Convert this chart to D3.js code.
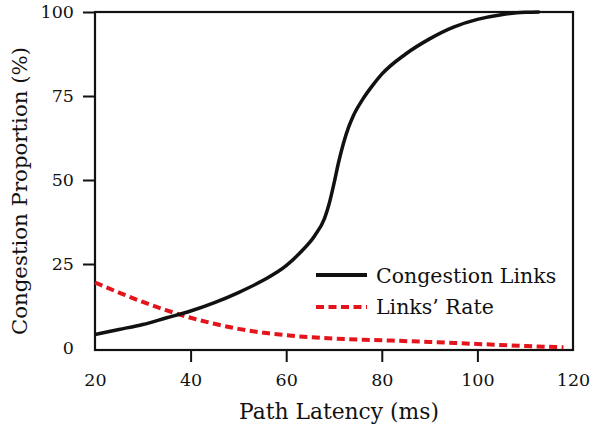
<!DOCTYPE html>
<html>
<head>
<meta charset="utf-8">
<script src="https://cdn.jsdelivr.net/npm/d3@7"></script>
<style>
  body { margin: 0; background: #fff; }
  text { font-family: "DejaVu Serif", "Liberation Serif", serif; fill: #111; }
</style>
</head>
<body>
<div id="chart"></div>
<script>
// path latency (ms)
const latency = [20, 25, 30, 35, 40, 45, 50, 55, 60, 63, 66, 68, 69, 70, 71, 72, 73, 74, 76, 78, 80, 85, 90, 95, 100, 105, 110, 113];
// congestion links (%)
const congestion = [4, 5.5, 7, 9, 11, 13.5, 16.5, 20, 24.5, 28.5, 33.5, 38.5, 43, 49, 55.5, 61, 65.5, 69, 74, 78, 81.5, 87.5, 92, 95.5, 97.8, 99.2, 99.9, 100];
// links' rate
const rateLatency = [20, 25, 30, 35, 40, 45, 50, 55, 60, 65, 70, 80, 90, 100, 110, 118];
const rate = [19.5, 16.5, 13.7, 11.2, 9, 7.2, 5.7, 4.6, 3.8, 3.2, 2.8, 2.3, 1.8, 1.2, 0.6, 0.2];

const xTicks = [20, 40, 60, 80, 100, 120];
const yTicks = [0, 25, 50, 75, 100];

const width = 592, height = 430;
const margin = { top: 12, left: 95, right: 19, bottom: 80 };
const innerW = width - margin.left - margin.right;
const innerH = height - margin.top - margin.bottom;

const svg = d3.select('#chart').append('svg')
    .attr('width', width)
    .attr('height', height);

const x = d3.scaleLinear().domain([20, 120]).range([margin.left, margin.left + innerW]);
const y = d3.scaleLinear().domain([0, 100]).range([margin.top + innerH - 2, margin.top]);

// axes
const xAxis = svg.append('g')
    .attr('transform', `translate(0, ${margin.top + innerH})`)
    .call(d3.axisBottom(x).tickValues(xTicks).tickSize(12).tickPadding(12).tickSizeOuter(0));
const yAxis = svg.append('g')
    .attr('transform', `translate(${margin.left}, 0)`)
    .call(d3.axisLeft(y).tickValues(yTicks).tickSize(12).tickPadding(9).tickSizeOuter(0));

[xAxis, yAxis].forEach((g) => {
    g.select('.domain').remove();
    g.selectAll('line').attr('stroke', '#111').attr('stroke-width', 2);
    g.selectAll('text').attr('font-size', 17.5).style('font-family', '"DejaVu Serif", serif').attr('fill', '#111');
});
// hide end ticks covered by the frame
xAxis.selectAll('.tick').filter((d) => d === 20 || d === 120).select('line').remove();
yAxis.selectAll('.tick').filter((d) => d === 0).select('line').remove();

// frame
svg.append('rect')
    .attr('x', margin.left)
    .attr('y', margin.top)
    .attr('width', innerW)
    .attr('height', innerH)
    .attr('fill', 'none')
    .attr('stroke', '#111')
    .attr('stroke-width', 2.2);

const line = d3.line().x((d) => x(d[0])).y((d) => y(d[1])).curve(d3.curveMonotoneX);

svg.append('path')
    .datum(rateLatency.map((v, i) => [v, rate[i]]))
    .attr('d', line)
    .attr('fill', 'none')
    .attr('stroke', '#e3141b')
    .attr('stroke-width', 4)
    .attr('stroke-dasharray', '8,4.5');

svg.append('path')
    .datum(latency.map((v, i) => [v, congestion[i]]))
    .attr('d', line)
    .attr('fill', 'none')
    .attr('stroke', '#111')
    .attr('stroke-width', 3.5);

// legend
const legend = svg.append('g').attr('transform', 'translate(316, 275)');
legend.append('line').attr('x1', 0).attr('x2', 51).attr('y1', 0).attr('y2', 0)
    .attr('stroke', '#111').attr('stroke-width', 4);
legend.append('line').attr('x1', 0).attr('x2', 51).attr('y1', 32).attr('y2', 32)
    .attr('stroke', '#e3141b').attr('stroke-width', 4).attr('stroke-dasharray', '8,4.5');
legend.append('text').attr('x', 60).attr('y', 8).attr('font-size', 20.5).text('Congestion Links');
legend.append('text').attr('x', 60).attr('y', 39).attr('font-size', 20.5).text('Links\u2019 Rate');

// axis titles
svg.append('text')
    .attr('x', 339).attr('y', 419)
    .attr('text-anchor', 'middle')
    .attr('font-size', 21.8)
    .text('Path Latency (ms)');
svg.append('text')
    .attr('transform', 'translate(27, 191) rotate(-90)')
    .attr('text-anchor', 'middle')
    .attr('font-size', 21.3)
    .text('Congestion Proportion (%)');
</script>
</body>
</html>
